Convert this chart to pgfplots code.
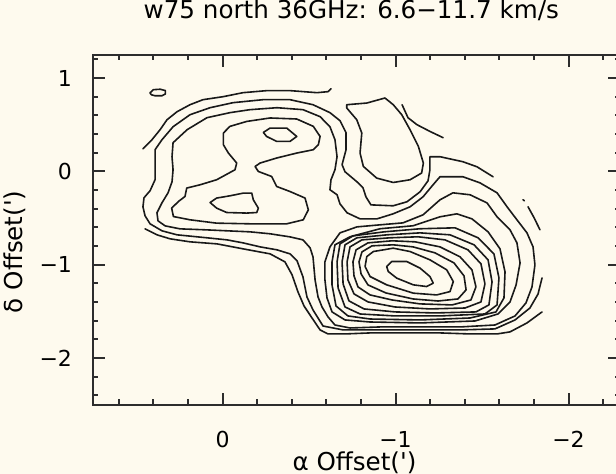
\documentclass[border=0pt]{standalone}
\usepackage{pgfplots}
\pgfplotsset{compat=1.18}
\usepackage{fontspec}
\setmainfont{DejaVu Sans}
\newfontfamily\pfont{DejaVu Sans}
\definecolor{bgc}{RGB}{254,250,238}
\definecolor{axc}{RGB}{45,45,45}
\definecolor{cc}{RGB}{25,25,25}
\tikzset{cl/.style={cc, line width=0.8pt, line join=round, line cap=round, mark=none}}
\begin{document}
\begin{tikzpicture}
\fill[bgc] (-46.4pt,-34.65pt) rectangle (261.6pt,202.35pt);
\begin{axis}[
  at={(0pt,0pt)}, anchor=south west,
  scale only axis, width=263.8pt, height=175pt,
  x dir=reverse, xmin=-2.3, xmax=0.75, ymin=-2.5, ymax=1.25,
  xtick={0,-1,-2}, xticklabels={\mbox{0},\mbox{−1},\mbox{−2}},
  ytick={1,0,-1,-2}, yticklabels={\mbox{1},\mbox{0},\mbox{−1},\mbox{−2}},
  minor xtick={0.6,0.4,0.2,-0.2,-0.4,-0.6,-0.8,-1.2,-1.4,-1.6,-1.8,-2.2},
  minor ytick={1.2,0.8,0.6,0.4,0.2,-0.2,-0.4,-0.6,-0.8,-1.2,-1.4,-1.6,-1.8,-2.2,-2.4},
  tick align=inside,
  major tick length=6pt, minor tick length=2.6pt,
  axis line style={axc, line width=1pt},
  every tick/.style={axc, line width=1pt},
  tick label style={font=\pfont\fontsize{11}{13}\selectfont, inner sep=0pt},
  xticklabel style={anchor=center, yshift=-17.5pt},
  yticklabel style={anchor=east, xshift=-10.2pt},
  title={w75 north 36GHz: 6.6−11.7 km/s},
  title style={font=\pfont\fontsize{12.3}{14}\selectfont, at={(axis description cs:0.49,1.0914)}, anchor=center},
  xlabel={α Offset(')},
  xlabel style={font=\pfont\fontsize{12.3}{14}\selectfont, at={(axis description cs:0.496,-0.1657)}, anchor=center},
  ylabel={δ Offset(')},
  ylabel style={font=\pfont\fontsize{12.3}{14}\selectfont, at={(axis description cs:-0.147,0.437)}, anchor=center},
  axis background/.style={fill=bgc},
]
% small isolated loop
\addplot[cl] coordinates {(0.42,0.84) (0.40,0.875) (0.36,0.88) (0.33,0.865) (0.33,0.83) (0.35,0.81) (0.39,0.81) (0.41,0.82) (0.42,0.84)};
% level 1 (outermost, open pieces)
\addplot[cl] coordinates {(0.460,0.242) (0.408,0.339) (0.361,0.446) (0.321,0.553) (0.263,0.639) (0.188,0.714) (0.113,0.768) (-0.003,0.800) (-0.118,0.843) (-0.257,0.865) (-0.390,0.865) (-0.546,0.843) (-0.610,0.854) (-0.627,0.886)};
\addplot[cl] coordinates {(0.448,-0.616) (0.379,-0.680) (0.303,-0.723) (0.188,-0.755) (0.032,-0.777) (-0.118,-0.830) (-0.275,-0.884) (-0.361,-0.970) (-0.402,-1.109) (-0.436,-1.291) (-0.471,-1.442) (-0.517,-1.570) (-0.564,-1.699) (-0.610,-1.742) (-0.708,-1.742) (-0.853,-1.731) (-1.084,-1.731) (-1.257,-1.731) (-1.431,-1.742) (-1.587,-1.742) (-1.662,-1.720) (-1.760,-1.624) (-1.847,-1.506)};
\addplot[cl] coordinates {(-1.038,0.714) (-1.072,0.575) (-1.124,0.500) (-1.199,0.428) (-1.275,0.361)};
\addplot[cl] coordinates {(-1.766,-0.379) (-1.801,-0.497) (-1.835,-0.626)};
\addplot[cl] coordinates {(-1.737,-0.304) (-1.745,-0.315)};
% level 2
\addplot[cl] coordinates {(-1.564,-0.058) (-1.471,0.049) (-1.390,0.103) (-1.257,0.157) (-1.199,0.157) (-1.199,0.017) (-1.188,-0.101) (-1.142,-0.219) (-1.066,-0.326) (-0.986,-0.369) (-0.858,-0.359) (-0.829,-0.273) (-0.812,-0.176) (-0.777,-0.112) (-0.708,-0.004) (-0.691,0.071) (-0.714,0.232) (-0.714,0.414) (-0.679,0.543) (-0.621,0.629) (-0.523,0.714) (-0.390,0.768) (-0.234,0.768) (-0.061,0.736) (0.072,0.682) (0.188,0.607) (0.286,0.478) (0.350,0.339) (0.390,0.232) (0.390,0.071) (0.390,-0.090) (0.419,-0.208) (0.454,-0.283) (0.460,-0.380) (0.448,-0.476) (0.419,-0.562) (0.350,-0.637) (0.263,-0.680) (0.090,-0.712) (-0.026,-0.734) (-0.118,-0.766) (-0.217,-0.809) (-0.315,-0.841) (-0.390,-0.884) (-0.431,-0.959) (-0.465,-1.131) (-0.488,-1.345) (-0.523,-1.485) (-0.581,-1.657) (-0.697,-1.699) (-0.795,-1.699) (-1.084,-1.699) (-1.373,-1.699) (-1.575,-1.688) (-1.691,-1.592) (-1.777,-1.464) (-1.824,-1.314) (-1.847,-1.142)};
\addplot[cl] coordinates {(-0.718,0.714) (-0.834,0.732) (-0.939,0.786) (-0.987,0.714) (-1.036,0.607) (-1.084,0.446) (-1.132,0.268) (-1.161,0.089) (-1.151,-0.018) (-1.084,-0.090) (-0.987,-0.119) (-0.891,-0.072) (-0.814,0.053) (-0.795,0.196) (-0.805,0.411) (-0.776,0.553) (-0.718,0.679) (-0.718,0.714)};
% level 3
\addplot[cl] coordinates {(0.292,0.157) (0.286,0.307) (0.205,0.446) (0.090,0.575) (-0.043,0.629) (-0.159,0.661) (-0.315,0.682) (-0.465,0.661) (-0.564,0.586) (-0.621,0.478) (-0.650,0.339) (-0.662,0.157) (-0.650,0.017) (-0.627,-0.090) (-0.621,-0.197) (-0.662,-0.251) (-0.679,-0.348) (-0.720,-0.444) (-0.795,-0.509) (-0.893,-0.509) (-0.986,-0.455) (-1.084,-0.380) (-1.159,-0.273) (-1.217,-0.144) (-1.257,-0.058) (-1.390,-0.058) (-1.488,-0.123) (-1.587,-0.230) (-1.645,-0.380) (-1.702,-0.519) (-1.760,-0.659) (-1.795,-0.809) (-1.806,-1.002) (-1.789,-1.238) (-1.754,-1.410) (-1.691,-1.549) (-1.575,-1.646) (-1.373,-1.667) (-1.142,-1.667) (-0.910,-1.667) (-0.737,-1.678) (-0.650,-1.646) (-0.610,-1.560) (-0.575,-1.453) (-0.552,-1.345) (-0.535,-1.163) (-0.523,-0.916) (-0.506,-0.819) (-0.465,-0.734) (-0.390,-0.702) (-0.275,-0.669) (-0.159,-0.648) (-0.026,-0.637) (0.090,-0.627) (0.246,-0.616) (0.332,-0.584) (0.373,-0.530) (0.379,-0.444) (0.350,-0.337) (0.315,-0.230) (0.292,-0.112) (0.286,0.017) (0.292,0.157)};
% level 4
\addplot[cl] coordinates {(-0.005,0.411) (-0.043,0.482) (-0.140,0.535) (-0.275,0.572) (-0.429,0.561) (-0.525,0.482) (-0.564,0.374) (-0.554,0.285) (-0.525,0.232) (-0.429,0.196) (-0.313,0.143) (-0.217,0.089) (-0.188,0.052) (-0.207,-0.001) (-0.284,-0.055) (-0.313,-0.162) (-0.390,-0.216) (-0.477,-0.286) (-0.496,-0.412) (-0.467,-0.519) (-0.371,-0.562) (-0.159,-0.562) (0.034,-0.555) (0.188,-0.519) (0.284,-0.484) (0.294,-0.394) (0.255,-0.323) (0.217,-0.269) (0.207,-0.179) (0.130,-0.144) (0.034,-0.090) (-0.072,0.017) (-0.082,0.089) (-0.034,0.196) (-0.005,0.285) (-0.005,0.411)};
\addplot[cl] coordinates {(-0.679,-0.659) (-0.777,-0.595) (-0.910,-0.573) (-1.043,-0.552) (-1.159,-0.466) (-1.257,-0.305) (-1.332,-0.230) (-1.431,-0.251) (-1.529,-0.338) (-1.587,-0.487) (-1.662,-0.627) (-1.702,-0.766) (-1.720,-0.981) (-1.697,-1.217) (-1.662,-1.399) (-1.592,-1.528) (-1.460,-1.603) (-1.142,-1.624) (-0.853,-1.614) (-0.708,-1.592) (-0.633,-1.506) (-0.604,-1.356) (-0.592,-1.163) (-0.592,-0.970) (-0.621,-0.809) (-0.679,-0.659)};
% level 5
\addplot[cl] coordinates {(-0.236,0.417) (-0.275,0.464) (-0.371,0.464) (-0.429,0.374) (-0.390,0.321) (-0.313,0.321) (-0.255,0.374) (-0.236,0.417)};
\addplot[cl] coordinates {(0.072,-0.334) (0.034,-0.286) (-0.043,-0.262) (-0.120,-0.233) (-0.169,-0.233) (-0.178,-0.305) (-0.207,-0.394) (-0.198,-0.441) (-0.140,-0.447) (-0.024,-0.441) (0.034,-0.394) (0.072,-0.334)};
\addplot[cl] coordinates {(-0.633,-0.970) (-0.650,-0.787) (-0.737,-0.701) (-0.910,-0.615) (-1.101,-0.583) (-1.257,-0.487) (-1.355,-0.455) (-1.442,-0.509) (-1.535,-0.648) (-1.604,-0.830) (-1.633,-1.077) (-1.627,-1.356) (-1.581,-1.506) (-1.431,-1.571) (-1.142,-1.592) (-0.853,-1.582) (-0.725,-1.549) (-0.656,-1.442) (-0.633,-1.217) (-0.633,-0.970)};
% levels 6-12 (south-east peak)
\addplot[cl] coordinates {(-0.662,-0.970) (-0.679,-0.777) (-0.754,-0.691) (-0.934,-0.648) (-1.142,-0.615) (-1.344,-0.605) (-1.477,-0.712) (-1.569,-0.884) (-1.598,-1.141) (-1.587,-1.431) (-1.517,-1.528) (-1.257,-1.549) (-0.997,-1.549) (-0.795,-1.528) (-0.708,-1.453) (-0.668,-1.249) (-0.662,-0.970)};
\addplot[cl] coordinates {(-0.691,-0.970) (-0.708,-0.787) (-0.777,-0.712) (-0.951,-0.680) (-1.142,-0.659) (-1.315,-0.680) (-1.454,-0.787) (-1.535,-0.948) (-1.558,-1.184) (-1.540,-1.431) (-1.465,-1.506) (-1.228,-1.517) (-0.997,-1.506) (-0.818,-1.474) (-0.731,-1.388) (-0.697,-1.206) (-0.691,-0.970)};
\addplot[cl] coordinates {(-0.720,-0.970) (-0.737,-0.809) (-0.806,-0.734) (-0.968,-0.712) (-1.130,-0.701) (-1.286,-0.734) (-1.419,-0.841) (-1.494,-0.991) (-1.517,-1.206) (-1.494,-1.399) (-1.402,-1.464) (-1.199,-1.474) (-0.997,-1.453) (-0.841,-1.399) (-0.760,-1.313) (-0.725,-1.163) (-0.720,-0.970)};
\addplot[cl] coordinates {(-0.754,-0.970) (-0.772,-0.841) (-0.841,-0.766) (-0.980,-0.744) (-1.113,-0.755) (-1.257,-0.809) (-1.373,-0.916) (-1.442,-1.056) (-1.465,-1.238) (-1.436,-1.378) (-1.327,-1.431) (-1.142,-1.420) (-0.980,-1.378) (-0.853,-1.324) (-0.783,-1.238) (-0.760,-1.120) (-0.754,-0.970)};
\addplot[cl] coordinates {(-0.789,-0.970) (-0.806,-0.863) (-0.864,-0.798) (-0.986,-0.787) (-1.101,-0.809) (-1.228,-0.873) (-1.338,-0.981) (-1.396,-1.120) (-1.408,-1.270) (-1.361,-1.367) (-1.246,-1.389) (-1.101,-1.367) (-0.945,-1.303) (-0.841,-1.217) (-0.801,-1.099) (-0.789,-0.970)};
\addplot[cl] coordinates {(-0.824,-1.020) (-0.834,-0.913) (-0.872,-0.859) (-0.987,-0.823) (-1.084,-0.859) (-1.199,-0.948) (-1.296,-1.055) (-1.334,-1.181) (-1.315,-1.288) (-1.238,-1.324) (-1.103,-1.305) (-0.949,-1.216) (-0.853,-1.127) (-0.824,-1.020)};
\addplot[cl] coordinates {(-0.949,-1.020) (-0.978,-0.966) (-1.065,-0.966) (-1.142,-1.037) (-1.199,-1.127) (-1.218,-1.198) (-1.180,-1.234) (-1.103,-1.216) (-1.007,-1.144) (-0.958,-1.073) (-0.949,-1.020)};
\end{axis}
\pgfresetboundingbox
\useasboundingbox (-46.4pt,-34.65pt) rectangle (261.6pt,202.35pt);
\end{tikzpicture}
\end{document}
